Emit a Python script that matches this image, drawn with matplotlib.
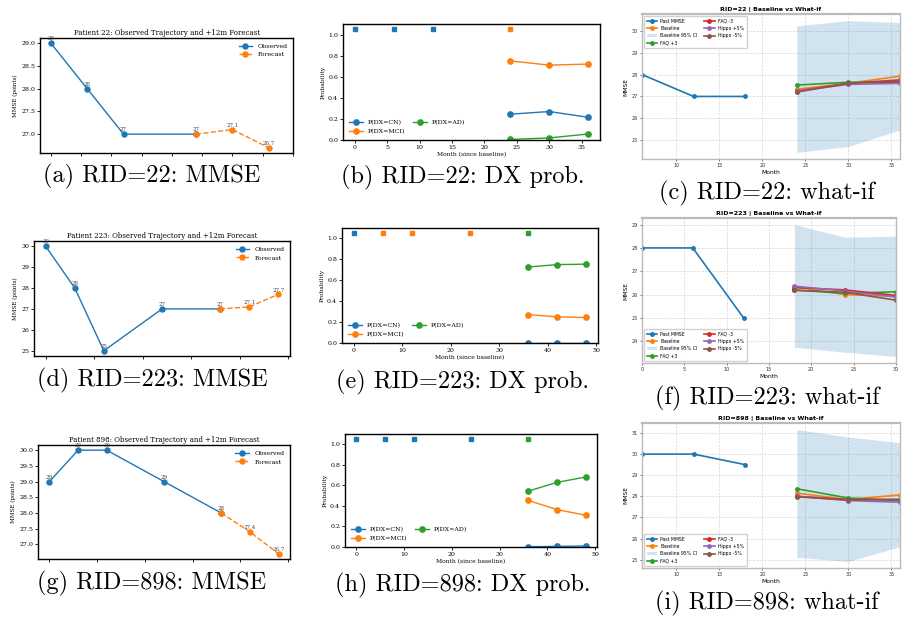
import matplotlib
matplotlib.use("Agg")
import matplotlib.pyplot as plt

# ---------------- data ----------------
# MMSE trajectory + forecast (left column)
p22_obs_m = [0, 6, 12, 24]
p22_obs = [29, 28, 27, 27]
p22_fc_m = [24, 30, 36]
p22_fc = [27, 27.1, 26.7]

p223_obs_m = [0, 6, 12, 24, 36]
p223_obs = [30, 28, 25, 27, 27]
p223_fc_m = [36, 42, 48]
p223_fc = [27, 27.1, 27.7]

p898_obs_m = [0, 6, 12, 24, 36]
p898_obs = [29, 30, 30, 29, 28]
p898_fc_m = [36, 42, 48]
p898_fc = [28, 27.4, 26.7]

# DX probabilities (middle column)
dx22_vis_m = [0, 6, 12, 24]
dx22_vis = ['CN', 'CN', 'CN', 'MCI']
dx22_m = [24, 30, 36]
dx22_cn = [0.245, 0.27, 0.215]
dx22_mci = [0.75, 0.71, 0.72]
dx22_ad = [0.005, 0.02, 0.057]

dx223_vis_m = [0, 6, 12, 24, 36]
dx223_vis = ['CN', 'MCI', 'MCI', 'MCI', 'AD']
dx223_m = [36, 42, 48]
dx223_cn = [0.002, 0.002, 0.002]
dx223_mci = [0.272, 0.25, 0.244]
dx223_ad = [0.727, 0.75, 0.754]

dx898_vis_m = [0, 6, 12, 24, 36]
dx898_vis = ['CN', 'CN', 'CN', 'CN', 'AD']
dx898_m = [36, 42, 48]
dx898_cn = [0.003, 0.006, 0.01]
dx898_mci = [0.453, 0.365, 0.309]
dx898_ad = [0.544, 0.629, 0.681]

# what-if scenarios (right column)
w22_past_m = [6, 12, 18]
w22_past = [28, 27, 27]
w22_fc_m = [24, 30, 36]
w22_ci_lo = [24.44, 24.71, 25.47]
w22_ci_hi = [30.23, 30.47, 30.38]
w22_base = [27.33, 27.6, 27.93]
w22_faq_p3 = [27.52, 27.65, 27.65]
w22_faq_m3 = [27.25, 27.6, 27.68]
w22_hip_p5 = [27.25, 27.55, 27.6]
w22_hip_m5 = [27.2, 27.6, 27.76]

w223_past_m = [0, 6, 12]
w223_past = [28, 28, 25]
w223_fc_m = [18, 24, 30]
w223_ci_lo = [23.74, 23.53, 23.35]
w223_ci_hi = [29.0, 28.46, 28.5]
w223_base = [26.33, 26.0, 25.92]
w223_faq_p3 = [26.2, 26.05, 26.12]
w223_faq_m3 = [26.3, 26.2, 25.96]
w223_hip_p5 = [26.36, 26.15, 25.9]
w223_hip_m5 = [26.18, 26.1, 25.76]

w898_past_m = [6, 12, 18]
w898_past = [30, 30, 29.5]
w898_fc_m = [24, 30, 36]
w898_ci_lo = [25.11, 24.92, 25.62]
w898_ci_hi = [31.16, 30.81, 30.54]
w898_base = [28.15, 27.85, 28.07]
w898_faq_p3 = [28.36, 27.92, 27.8]
w898_faq_m3 = [28.0, 27.85, 27.85]
w898_hip_p5 = [28.0, 27.8, 27.72]
w898_hip_m5 = [27.98, 27.83, 27.85]

captions = ["(a) RID=22: MMSE", "(b) RID=22: DX prob.", "(c) RID=22: what-if",
            "(d) RID=223: MMSE", "(e) RID=223: DX prob.", "(f) RID=223: what-if",
            "(g) RID=898: MMSE", "(h) RID=898: DX prob.", "(i) RID=898: what-if"]

# ---------------- layout ----------------
W, H = 902, 620
fig = plt.figure(figsize=(W / 100, H / 100), dpi=100)


def box(l, t, r, b):
    return [l / W, 1 - b / H, (r - l) / W, (b - t) / H]


SERIF = 'DejaVu Serif'
dx_col = {'CN': 'C0', 'MCI': 'C1', 'AD': 'C2'}


def mmse_panel(rect, rid, om, ov, fm, fv):
    ax = fig.add_axes(box(*rect))
    ax.plot(om, ov, '-o', color='C0', lw=1, ms=3.6, label='Observed')
    ax.plot(fm, fv, '--o', color='C1', lw=1, ms=3.6, label='Forecast')
    for m, v in zip(om, ov):
        ax.annotate(f"{v:g}", (m, v), textcoords='offset points', xytext=(0, 2),
                    ha='center', fontsize=4, color='#444', family=SERIF)
    for m, v in zip(fm[1:], fv[1:]):
        ax.annotate(f"{v:.1f}", (m, v), textcoords='offset points', xytext=(0, 2),
                    ha='center', fontsize=4, color='#444', family=SERIF)
    step = 5 if fm[-1] <= 36 else 10
    ax.set_xticks(range(0, fm[-1] + step, step))
    ax.set_xticklabels([])
    ax.set_title(f"Patient {rid}: Observed Trajectory and +12m Forecast",
                 fontsize=5, family=SERIF, pad=2)
    ax.set_ylabel("MMSE (points)", fontsize=4, family=SERIF, labelpad=2)
    ax.tick_params(labelsize=4.5, length=2, width=0.6, pad=1.5)
    for t in ax.get_yticklabels():
        t.set_family(SERIF)
    for s in ax.spines.values():
        s.set_linewidth(1.0)
    ax.legend(loc='upper right', frameon=False, prop={'family': SERIF, 'size': 4.5},
              handlelength=2.2)
    return ax


def dx_panel(rect, vm, vd, m, cn, mci, ad):
    ax = fig.add_axes(box(*rect))
    for x, d in zip(vm, vd):
        ax.plot(x, 1.05, 's', color=dx_col[d], ms=3)
    ax.plot(m, cn, '-o', color='C0', lw=1, ms=3.8, label='P(DX=CN)')
    ax.plot(m, mci, '-o', color='C1', lw=1, ms=3.8, label='P(DX=MCI)')
    ax.plot(m, ad, '-o', color='C2', lw=1, ms=3.8, label='P(DX=AD)')
    ax.set_ylim(0, 1.1)
    ax.set_xlabel("Month (since baseline)", fontsize=4.3, family=SERIF, labelpad=1.5)
    ax.set_ylabel("Probability", fontsize=4.3, family=SERIF, labelpad=2)
    ax.tick_params(labelsize=4.5, length=2, width=0.6, pad=1.5)
    for t in ax.get_xticklabels() + ax.get_yticklabels():
        t.set_family(SERIF)
    for s in ax.spines.values():
        s.set_linewidth(1.0)
    ax.legend(loc='lower left', ncol=2, frameon=False,
              prop={'family': SERIF, 'size': 4.5}, handlelength=2.2,
              columnspacing=1.2, borderaxespad=0.6)
    return ax


def whatif_panel(rect, rid, pm, pv, fm, lo, hi, base, fp3, fm3, hp5, hm5, legloc):
    ax = fig.add_axes(box(*rect))
    ax.grid(True, ls='--', color='#cccccc', lw=0.5, alpha=0.8)
    ax.set_axisbelow(True)
    ax.plot(pm, pv, '-o', color='C0', lw=1.2, ms=2.5, label='Past MMSE')
    ax.plot(fm, base, '-o', color='C1', lw=1.2, ms=2.5, label='Baseline')
    ax.fill_between(fm, lo, hi, color='C0', alpha=0.2, lw=0, label='Baseline 95% CI')
    ax.plot(fm, fp3, '-o', color='C2', lw=1.2, ms=2.5, label='FAQ +3')
    ax.plot(fm, fm3, '-o', color='C3', lw=1.2, ms=2.5, label='FAQ -3')
    ax.plot(fm, hp5, '-o', color='C4', lw=1.2, ms=2.5, label='Hippo +5%')
    ax.plot(fm, hm5, '-o', color='C5', lw=1.2, ms=2.5, label='Hippo -5%')
    ax.set_xlim(pm[0], fm[-1])
    ax.set_title(f"RID={rid} | Baseline vs What-if", fontsize=4.5,
                 fontweight='bold', pad=2)
    ax.set_xlabel("Month", fontsize=4.3, labelpad=1.5)
    ax.set_ylabel("MMSE", fontsize=4.3, labelpad=2)
    ax.tick_params(labelsize=3.6, length=1.5, width=0.5, pad=1.5, colors='#333333')
    for s in ax.spines.values():
        s.set_color('#bbbbbb')
        s.set_linewidth(1.0)
    ax.spines['top'].set_linewidth(1.6)
    ax.legend(loc=legloc, ncol=2, fontsize=3.3, handlelength=2.2,
              columnspacing=1.5, borderpad=0.5, framealpha=0.9)
    return ax


mmse_panel((40, 38, 293, 153), 22, p22_obs_m, p22_obs, p22_fc_m, p22_fc)
mmse_panel((34, 241, 290, 356), 223, p223_obs_m, p223_obs, p223_fc_m, p223_fc)
mmse_panel((38, 445, 290, 559), 898, p898_obs_m, p898_obs, p898_fc_m, p898_fc)

dx_panel((343, 24, 600, 140), dx22_vis_m, dx22_vis, dx22_m, dx22_cn, dx22_mci, dx22_ad)
dx_panel((342, 228, 598, 343), dx223_vis_m, dx223_vis, dx223_m, dx223_cn, dx223_mci, dx223_ad)
dx_panel((345, 434, 597, 547), dx898_vis_m, dx898_vis, dx898_m, dx898_cn, dx898_mci, dx898_ad)

whatif_panel((642, 14, 900, 159), 22, w22_past_m, w22_past, w22_fc_m, w22_ci_lo, w22_ci_hi,
             w22_base, w22_faq_p3, w22_faq_m3, w22_hip_p5, w22_hip_m5, 'upper left')
whatif_panel((642, 218, 896, 363), 223, w223_past_m, w223_past, w223_fc_m, w223_ci_lo,
             w223_ci_hi, w223_base, w223_faq_p3, w223_faq_m3, w223_hip_p5, w223_hip_m5,
             'lower left')
whatif_panel((642, 423, 900, 568), 898, w898_past_m, w898_past, w898_fc_m, w898_ci_lo,
             w898_ci_hi, w898_base, w898_faq_p3, w898_faq_m3, w898_hip_p5, w898_hip_m5,
             'lower left')

# captions
cap_pos = [(152, 176), (463, 177), (767, 193),
           (152, 380), (463, 382), (767, 398),
           (152, 583), (463, 585), (767, 603)]
for txt, (x, y) in zip(captions, cap_pos):
    fig.text(x / W, 1 - y / H, txt, ha='center', va='center',
             fontsize=17.5, family=['cmr10', 'DejaVu Serif'])

fig.savefig("out.png", dpi=100)
